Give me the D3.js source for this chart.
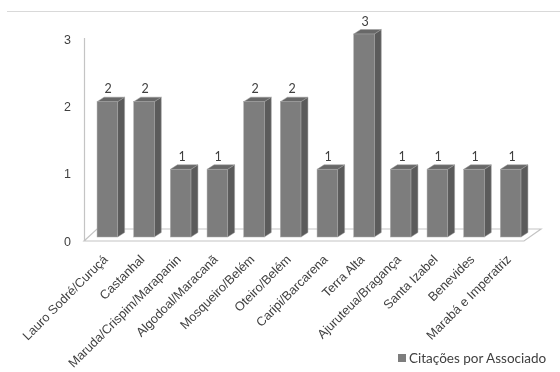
<!DOCTYPE html>
<html><head><meta charset="utf-8">
<script src="https://cdn.jsdelivr.net/npm/d3@7"></script>
<style>
html,body{margin:0;padding:0;background:#fff;}
svg{display:block;font-family:Lato,"Open Sans",sans-serif;will-change:transform;}
</style></head>
<body><svg id="c" width="560" height="372"></svg>
<script>
const categories = ["Lauro Sodré/Curuçá","Castanhal","Maruda/Crispim/Marapanin","Algodoal/Maracanã","Mosqueiro/Belém","Oteiro/Belém","Caripi/Barcarena","Terra Alta","Ajuruteua/Bragança","Santa Izabel","Benevides","Marabá e Imperatriz"];
const values = [2,2,1,1,2,2,1,3,1,1,1,1];
const yTicks = [0,1,2,3];
const seriesName = "Citações por Associado";

const svg = d3.select("#c");
const depthX = 7, depthY = 4.5;

// top rule
svg.append("line").attr("x1",7).attr("x2",560).attr("y1",11.5).attr("y2",11.5)
  .attr("stroke","#d9d9d9").attr("stroke-width",1);

const x = d3.scaleBand().domain(categories).range([89,529]).paddingInner(0.44).paddingOuter(0.22);
const yAxisScale = d3.scaleLinear().domain([0,3]).range([241,39]);
const yBar = d3.scaleLinear().domain([0,3]).range([237,34]);

// floor
const fr = x.range()[1]-5;
const y0 = yAxisScale(0);
svg.append("path")
  .attr("d", `M${84},${y0} L${fr},${y0} L${fr+17},${y0-12} L${84+13},${y0-12} Z`)
  .attr("fill","#fff").attr("stroke","#c4c4c4").attr("stroke-width",1.2);

// y axis line
svg.append("line").attr("x1",84.5).attr("x2",84.5).attr("y1",yAxisScale(3)-1).attr("y2",y0)
  .attr("stroke","#c4c4c4").attr("stroke-width",1.2);

const yAxis = d3.axisLeft(yAxisScale).tickValues(yTicks).tickFormat(d3.format("d")).tickSize(0).tickPadding(13);
const ga = svg.append("g").attr("transform","translate(84,0)").call(yAxis);
ga.select(".domain").remove();
ga.selectAll("text").attr("fill","#404040").attr("font-size",12.5);

// bars
const bars = svg.append("g").selectAll("g").data(categories).join("g");
bars.each(function(c,i){
  const g = d3.select(this);
  const x0 = x(c), w = x.bandwidth();
  const yt = yBar(values[i]), yb = yBar(0);
  g.append("path").attr("d",`M${x0+w},${yt} L${x0+w+depthX},${yt-depthY} L${x0+w+depthX},${yb-depthY} L${x0+w},${yb} Z`)
    .attr("fill","#5b5b5b").attr("stroke","#9a9a9a").attr("stroke-width",0.5);
  g.append("path").attr("d",`M${x0},${yt} L${x0+depthX},${yt-depthY} L${x0+w+depthX},${yt-depthY} L${x0+w},${yt} Z`)
    .attr("fill","#686868").attr("stroke","#9a9a9a").attr("stroke-width",0.5);
  g.append("rect").attr("x",x0).attr("y",yt).attr("width",w).attr("height",yb-yt)
    .attr("fill","#7d7d7d").attr("stroke","#a8a8a8").attr("stroke-width",0.5);
  g.append("text").attr("x",Math.round(x0+w/2+1)).attr("y",Math.round(yt-depthY-4)).attr("text-anchor","middle")
    .attr("font-size",12.5).attr("fill","#404040").text(values[i]);
});

// category labels
const xAxis = d3.axisBottom(x).tickSize(0).tickPadding(0);
const gx = svg.append("g").attr("transform",`translate(0,${y0+16})`).call(xAxis);
gx.select(".domain").remove();
gx.selectAll("text").attr("font-size",12.7).attr("fill","#404040")
  .attr("text-anchor","end").attr("dy","0.35em")
  .attr("transform","translate(-2,0) rotate(-45)");

// legend
const lg = svg.append("g").attr("transform","translate(398,358)");
lg.append("rect").attr("x",0).attr("y",-4).attr("width",8).attr("height",8).attr("fill","#7d7d7d");
lg.append("text").attr("x",11).attr("y",0).attr("dy","0.35em").attr("font-size",13.5).attr("fill","#404040").text(seriesName);
</script></body></html>
